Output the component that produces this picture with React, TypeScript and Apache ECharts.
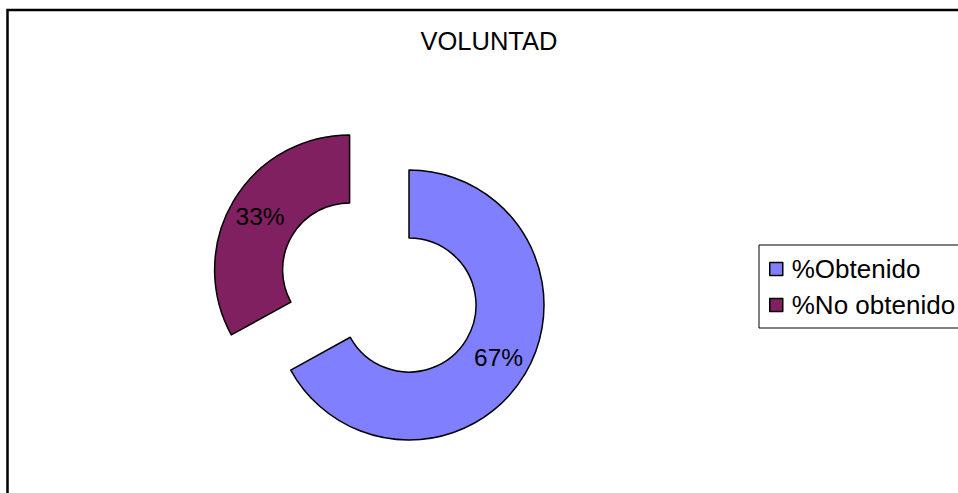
import React, { useEffect, useRef } from "react";
import * as echarts from "echarts";

const titleText = "VOLUNTAD";
const categories = ["%Obtenido", "%No obtenido"];
const values = [67, 33];
const colors = ["#8080FF", "#802060"];
const explodedIndex = 1;

const FONT = "'Liberation Sans', Arial, Helvetica, sans-serif";

export default function App() {
  const ref = useRef<HTMLDivElement>(null);
  useEffect(() => {
    if (!ref.current) return;
    const chart = echarts.init(ref.current, null, { renderer: "svg" });
    const data = categories.map((name, i) => ({
      name,
      value: values[i],
      selected: i === explodedIndex,
      itemStyle: { color: colors[i] },
      select: { itemStyle: { color: colors[i], borderColor: "#000", borderWidth: 1.5 } },
    }));
    chart.setOption({
      animation: false,
      backgroundColor: "#ffffff",
      title: {
        text: titleText,
        left: 489,
        textAlign: "center",
        top: 28,
        padding: 0,
        textStyle: { fontFamily: FONT, fontSize: 25.5, fontWeight: "normal", color: "#000" },
      },
      legend: {
        orient: "vertical",
        left: 759,
        top: 245,
        padding: [11, 20, 10, 10],
        itemGap: 10,
        itemWidth: 13,
        itemHeight: 13,
        icon: "rect",
        borderColor: "#000",
        borderWidth: 1,
        backgroundColor: "#fff",
        selectedMode: false,
        itemStyle: { borderColor: "#000", borderWidth: 1.5 },
        textStyle: { fontFamily: FONT, fontSize: 26, color: "#000", padding: [0, 0, 0, 4] },
        data: categories,
      },
      graphic: [
        {
          type: "rect",
          shape: { x: 7.5, y: 10, width: 1200, height: 1000 },
          style: { fill: "none", stroke: "#000", lineWidth: 2.5 },
          silent: true,
          z: 100,
        },
      ],
      series: [
        {
          type: "pie",
          center: [409, 305],
          radius: [67, 135],
          startAngle: 90,
          clockwise: true,
          selectedMode: "single",
          selectedOffset: 69,
          avoidLabelOverlap: false,
          emphasis: { disabled: true, scale: false },
          itemStyle: { borderColor: "#000", borderWidth: 1.5 },
          label: {
            show: true,
            position: "inside",
            formatter: "{c}%",
            fontFamily: FONT,
            fontSize: 24.5,
            color: "#000",
          },
          labelLine: { show: false },
          data,
        },
      ],
    });
    return () => chart.dispose();
  }, []);
  return (
    <div
      ref={ref}
      style={{ position: "fixed", left: 0, top: 0, width: 958, height: 493 }}
    />
  );
}
